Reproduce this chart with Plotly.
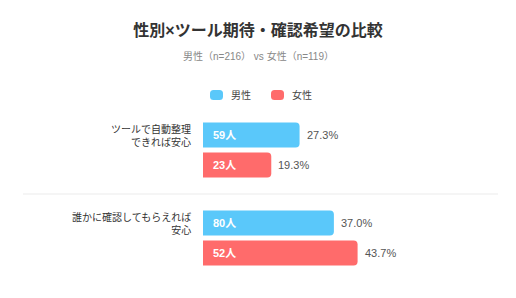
import plotly.graph_objects as go

# ---- data ----
categories = ["ツールで自動整理<br>できれば安心", "誰かに確認してもらえれば<br>安心"]
series_names = ["男性", "女性"]
male_pct = [27.3, 37.0]
female_pct = [19.3, 43.7]
male_count = [59, 80]
female_count = [23, 52]
title_text = "性別×ツール期待・確認希望の比較"
subtitle_text = "男性（n=216） vs 女性（n=119）"

# ---- style ----
W, H = 516, 298
ML, MR, MT, MB = 203, 30, 106, 16
XMAX = 80
colors = ["#5AC8FA", "#FF6B6B"]
FONT = "Liberation Sans, Noto Sans CJK JP, sans-serif"
SLOT = 15  # px offset of each bar from category centre
pw = W - ML - MR
ph = H - MT - MB


def px_x(px):
    return (px - ML) / pw


def px_y(py):
    return (H - MB - py) / ph


fig = go.Figure()
for name, pct, col in [(series_names[0], male_pct, colors[0]),
                       (series_names[1], female_pct, colors[1])]:
    fig.add_trace(go.Bar(
        y=categories, x=pct, name=name, orientation="h",
        marker=dict(color=col, line=dict(width=0)),
        hoverinfo="skip", showlegend=False,
    ))

annotations = []
for shift, pct, cnt in [(SLOT, male_pct, male_count), (-SLOT, female_pct, female_count)]:
    for cat, p, n in zip(categories, pct, cnt):
        annotations.append(dict(
            x=0, y=cat, xref="x", yref="y", xanchor="left", yanchor="middle",
            xshift=8, yshift=shift, text=f"<b>{n}人</b>", showarrow=False,
            font=dict(color="white", size=11, family=FONT)))
        annotations.append(dict(
            x=p, y=cat, xref="x", yref="y", xanchor="left", yanchor="middle",
            xshift=5, yshift=shift, text=f"{p:.1f}%", showarrow=False,
            font=dict(color="#555555", size=11, family=FONT)))
for cat in categories:
    annotations.append(dict(
        x=0, y=cat, xref="paper", yref="y", xanchor="right", yanchor="middle",
        xshift=-10, yshift=SLOT, text=cat, showarrow=False, align="right",
        font=dict(color="#333333", size=10, family=FONT)))

# subtitle
annotations.append(dict(
    x=px_x(W / 2), y=px_y(56), xref="paper", yref="paper",
    xanchor="center", yanchor="middle", text=subtitle_text, showarrow=False,
    font=dict(color="#888888", size=10, family=FONT)))

shapes = [dict(
    type="line", xref="paper", yref="y",
    x0=px_x(23), x1=px_x(498), y0=0.5, y1=0.5,
    line=dict(color="#EBEBEB", width=1))]

# manual legend (rounded swatches + labels)
LEG_Y = 95
leg_items = [(series_names[0], colors[0], 210), (series_names[1], colors[1], 271)]
sw, sh, r = 13, 10, 3.5
for name, col, x0 in leg_items:
    x1 = x0 + sw
    y0, y1 = LEG_Y - sh / 2, LEG_Y + sh / 2
    pts = lambda X, Y: f"{px_x(X)},{px_y(Y)}"
    path = (f"M{pts(x0 + r, y0)} L{pts(x1 - r, y0)} Q{pts(x1, y0)} {pts(x1, y0 + r)} "
            f"L{pts(x1, y1 - r)} Q{pts(x1, y1)} {pts(x1 - r, y1)} "
            f"L{pts(x0 + r, y1)} Q{pts(x0, y1)} {pts(x0, y1 - r)} "
            f"L{pts(x0, y0 + r)} Q{pts(x0, y0)} {pts(x0 + r, y0)} Z")
    shapes.append(dict(type="path", xref="paper", yref="paper", path=path,
                       fillcolor=col, line=dict(width=0)))
    annotations.append(dict(
        x=px_x(x1 + 6), y=px_y(LEG_Y), xref="paper", yref="paper",
        xanchor="left", yanchor="middle", text=name, showarrow=False,
        font=dict(color="#444444", size=10, family=FONT)))

fig.update_layout(
    width=W, height=H,
    margin=dict(l=ML, r=MR, t=MT, b=MB, autoexpand=False),
    paper_bgcolor="white", plot_bgcolor="white",
    font=dict(family=FONT, color="#444444"),
    barmode="group", bargap=0.318, bargroupgap=1 / 6, barcornerradius=4,
    title=dict(text=f"<b>{title_text}</b>", x=0.5, xref="container", xanchor="center",
               y=1 - 30 / H, yref="container", yanchor="middle",
               font=dict(size=16, color="#333333", family=FONT)),
    xaxis=dict(range=[0, XMAX], visible=False, fixedrange=True),
    yaxis=dict(range=[1.5, -0.5], showticklabels=False, showgrid=False,
               zeroline=False, showline=False, fixedrange=True),
    annotations=annotations, shapes=shapes,
    showlegend=False,
)

fig.write_html("out.html")
